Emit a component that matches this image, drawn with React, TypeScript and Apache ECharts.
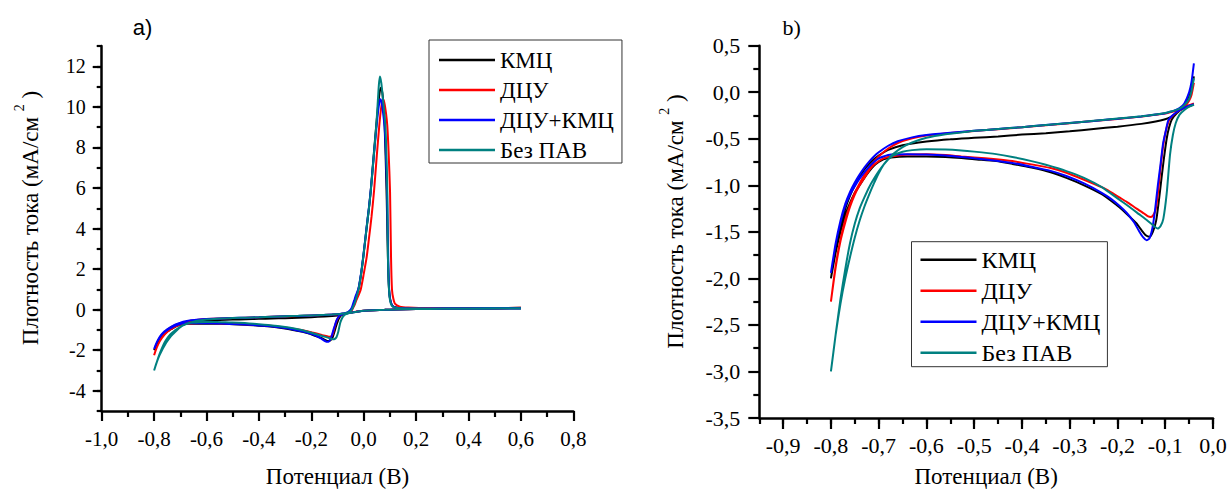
import React, { useEffect, useRef } from 'react';
import * as echarts from 'echarts';

// ---------- categories / legend ----------
const seriesNames = ['КМЦ', 'ДЦУ', 'ДЦУ+КМЦ', 'Без ПАВ'];
const seriesColors = ['#000000', '#ff0000', '#0000ff', '#008080'];

// ---------- tick label values ----------
const leftXLabels = [-1.0, -0.8, -0.6, -0.4, -0.2, 0.0, 0.2, 0.4, 0.6, 0.8];
const leftYMajor = [-4, -2, 0, 2, 4, 6, 8, 10, 12];
const rightXMajor = [-0.9, -0.8, -0.7, -0.6, -0.5, -0.4, -0.3, -0.2, -0.1, 0.0];
const rightYLabels = [-3.5, -3.0, -2.5, -2.0, -1.5, -1.0, -0.5, 0.0, 0.5];

// ---------- КМЦ (black) ----------
const kmcReturn = [[0.6, 0.07], [0.45, 0.05], [0.3, 0.04], [0.2, 0.03], [0.12, 0.01], [0.08, -0.01], [0.04, -0.03], [0.0, -0.06], [-0.02, -0.09], [-0.03, -0.11]];
const kmcLower = [[-0.04, -0.13], [-0.05, -0.15], [-0.064, -0.18], [-0.075, -0.22], [-0.086, -0.29], [-0.092, -0.38], [-0.097, -0.5], [-0.103, -0.72], [-0.108, -0.93], [-0.113, -1.15], [-0.119, -1.38], [-0.126, -1.5], [-0.133, -1.553], [-0.14, -1.54], [-0.15, -1.48], [-0.16, -1.41], [-0.18, -1.31], [-0.196, -1.236], [-0.215, -1.16], [-0.233, -1.095], [-0.27, -1.0], [-0.307, -0.92], [-0.34, -0.86], [-0.38, -0.81], [-0.42, -0.77], [-0.454, -0.74], [-0.5, -0.72], [-0.527, -0.706], [-0.56, -0.695], [-0.6, -0.69], [-0.64, -0.69], [-0.674, -0.7], [-0.69, -0.72], [-0.7, -0.75], [-0.71, -0.79], [-0.72, -0.85], [-0.73, -0.92], [-0.74, -1.0], [-0.75, -1.08], [-0.76, -1.19], [-0.77, -1.32], [-0.78, -1.5], [-0.79, -1.72], [-0.8, -2.0]];
const kmcUpper = [[-0.8, -2.0], [-0.79, -1.68], [-0.78, -1.43], [-0.77, -1.25], [-0.76, -1.11], [-0.75, -1.0], [-0.74, -0.91], [-0.73, -0.83], [-0.72, -0.77], [-0.71, -0.72], [-0.7, -0.68], [-0.68, -0.62], [-0.65, -0.57], [-0.6, -0.53], [-0.55, -0.505], [-0.5, -0.49], [-0.45, -0.475], [-0.4, -0.455], [-0.35, -0.44], [-0.3, -0.42], [-0.25, -0.395], [-0.2, -0.37], [-0.15, -0.34], [-0.12, -0.315], [-0.1, -0.29], [-0.09, -0.27], [-0.08, -0.24], [-0.07, -0.2], [-0.06, -0.14], [-0.05, -0.05], [-0.045, 0.04], [-0.04, 0.17]];
const kmcAnodic = [[-0.035, 0.42], [-0.03, 0.62], [-0.02, 1.0], [-0.01, 1.75], [-0.0015, 2.6], [0.01, 3.9], [0.02, 5.0], [0.027, 5.9], [0.038, 7.6], [0.048, 9.1], [0.056, 10.2], [0.062, 10.8], [0.066, 10.95], [0.071, 10.7], [0.076, 10.0], [0.08, 9.0], [0.084, 7.4], [0.088, 5.4], [0.091, 3.4], [0.094, 1.8], [0.097, 0.95], [0.101, 0.5], [0.108, 0.22], [0.12, 0.12], [0.15, 0.08], [0.25, 0.06], [0.4, 0.07], [0.6, 0.09]];

// ---------- ДЦУ (red) ----------
const dcuReturn = [[0.6, 0.07], [0.45, 0.05], [0.3, 0.04], [0.2, 0.03], [0.12, 0.01], [0.08, -0.01], [0.04, -0.03], [0.0, -0.06], [-0.02, -0.08], [-0.03, -0.1]];
const dcuLower = [[-0.04, -0.12], [-0.05, -0.14], [-0.064, -0.175], [-0.075, -0.21], [-0.084, -0.25], [-0.091, -0.29], [-0.097, -0.38], [-0.102, -0.5], [-0.107, -0.68], [-0.112, -0.92], [-0.116, -1.12], [-0.12, -1.26], [-0.125, -1.32], [-0.13, -1.34], [-0.137, -1.33], [-0.148, -1.29], [-0.16, -1.25], [-0.18, -1.18], [-0.196, -1.13], [-0.215, -1.07], [-0.233, -1.02], [-0.27, -0.94], [-0.307, -0.865], [-0.34, -0.815], [-0.38, -0.775], [-0.42, -0.74], [-0.454, -0.72], [-0.5, -0.7], [-0.527, -0.69], [-0.56, -0.675], [-0.6, -0.665], [-0.64, -0.67], [-0.674, -0.69], [-0.69, -0.71], [-0.7, -0.74], [-0.71, -0.78], [-0.72, -0.84], [-0.73, -0.92], [-0.74, -1.0], [-0.75, -1.1], [-0.76, -1.23], [-0.77, -1.4], [-0.78, -1.6], [-0.79, -1.88], [-0.8, -2.25]];
const dcuUpper = [[-0.8, -2.25], [-0.79, -1.86], [-0.78, -1.58], [-0.77, -1.37], [-0.76, -1.21], [-0.75, -1.08], [-0.74, -0.98], [-0.73, -0.89], [-0.72, -0.81], [-0.71, -0.745], [-0.7, -0.69], [-0.68, -0.605], [-0.66, -0.545], [-0.63, -0.495], [-0.6, -0.465], [-0.55, -0.437], [-0.5, -0.417], [-0.45, -0.397], [-0.4, -0.377], [-0.35, -0.354], [-0.3, -0.332], [-0.25, -0.31], [-0.2, -0.287], [-0.15, -0.262], [-0.12, -0.243], [-0.1, -0.228], [-0.09, -0.216], [-0.08, -0.203], [-0.07, -0.185], [-0.06, -0.155], [-0.05, -0.09], [-0.045, -0.03], [-0.04, 0.1]];
const dcuAnodic = [[-0.035, 0.22], [-0.03, 0.4], [-0.02, 0.7], [-0.0115, 0.98], [0.0, 1.75], [0.0115, 2.6], [0.02, 3.5], [0.03, 4.6], [0.0394, 5.84], [0.05, 7.6], [0.059, 9.0], [0.066, 9.9], [0.073, 10.4], [0.079, 10.2], [0.085, 9.7], [0.09, 9.08], [0.095, 7.8], [0.1005, 5.84], [0.1043, 2.6], [0.108, 0.98], [0.113, 0.55], [0.119, 0.3], [0.138, 0.15], [0.17, 0.1], [0.25, 0.07], [0.4, 0.07], [0.6, 0.09]];

// ---------- ДЦУ+КМЦ (blue) ----------
const dkReturn = [[0.6, 0.06], [0.45, 0.05], [0.3, 0.04], [0.2, 0.03], [0.12, 0.01], [0.08, -0.01], [0.04, -0.03], [0.0, -0.06], [-0.02, -0.09], [-0.03, -0.11]];
const dkLower = [[-0.04, -0.13], [-0.05, -0.145], [-0.064, -0.175], [-0.075, -0.21], [-0.085, -0.25], [-0.0935, -0.3], [-0.099, -0.42], [-0.1045, -0.55], [-0.11, -0.78], [-0.1155, -1.0], [-0.121, -1.25], [-0.1265, -1.45], [-0.133, -1.57], [-0.139, -1.59], [-0.146, -1.56], [-0.155, -1.49], [-0.165, -1.4], [-0.18, -1.3], [-0.196, -1.22], [-0.215, -1.14], [-0.233, -1.08], [-0.27, -0.98], [-0.307, -0.9], [-0.34, -0.845], [-0.38, -0.8], [-0.42, -0.76], [-0.454, -0.735], [-0.5, -0.71], [-0.527, -0.695], [-0.56, -0.68], [-0.6, -0.67], [-0.64, -0.665], [-0.674, -0.67], [-0.69, -0.69], [-0.7, -0.71], [-0.71, -0.75], [-0.72, -0.8], [-0.73, -0.86], [-0.74, -0.93], [-0.75, -1.01], [-0.76, -1.1], [-0.77, -1.22], [-0.78, -1.4], [-0.79, -1.63], [-0.8, -1.94]];
const dkUpper = [[-0.8, -1.94], [-0.79, -1.62], [-0.78, -1.38], [-0.77, -1.2], [-0.76, -1.07], [-0.75, -0.97], [-0.74, -0.885], [-0.73, -0.81], [-0.72, -0.745], [-0.71, -0.69], [-0.7, -0.645], [-0.68, -0.575], [-0.66, -0.527], [-0.63, -0.485], [-0.6, -0.46], [-0.55, -0.435], [-0.5, -0.415], [-0.45, -0.395], [-0.4, -0.375], [-0.35, -0.352], [-0.3, -0.33], [-0.25, -0.308], [-0.2, -0.285], [-0.15, -0.26], [-0.12, -0.24], [-0.1, -0.225], [-0.09, -0.21], [-0.08, -0.195], [-0.07, -0.17], [-0.06, -0.12], [-0.05, 0.0], [-0.045, 0.11], [-0.04, 0.31]];
const dkAnodic = [[-0.035, 0.5], [-0.03, 0.7], [-0.02, 1.05], [-0.01, 1.8], [-0.0015, 2.65], [0.01, 3.95], [0.02, 5.05], [0.027, 5.9], [0.038, 7.5], [0.048, 8.9], [0.055, 9.8], [0.061, 10.3], [0.065, 10.38], [0.07, 10.1], [0.075, 9.6], [0.08, 9.0], [0.085, 7.6], [0.089, 5.8], [0.092, 3.6], [0.0945, 2.0], [0.097, 1.0], [0.101, 0.5], [0.108, 0.22], [0.12, 0.11], [0.15, 0.07], [0.25, 0.06], [0.4, 0.07], [0.6, 0.08]];

// ---------- Без ПАВ (teal) ----------
const bpReturn = [[0.6, 0.06], [0.45, 0.05], [0.3, 0.04], [0.2, 0.03], [0.12, 0.01], [0.08, -0.01], [0.04, -0.03], [0.0, -0.06], [-0.02, -0.09], [-0.03, -0.115]];
const bpLower = [[-0.04, -0.135], [-0.05, -0.155], [-0.06, -0.19], [-0.07, -0.24], [-0.078, -0.33], [-0.084, -0.46], [-0.09, -0.67], [-0.097, -1.09], [-0.104, -1.36], [-0.11, -1.44], [-0.116, -1.465], [-0.122, -1.445], [-0.137, -1.38], [-0.155, -1.31], [-0.174, -1.236], [-0.2, -1.14], [-0.233, -1.02], [-0.27, -0.92], [-0.307, -0.847], [-0.35, -0.78], [-0.38, -0.74], [-0.42, -0.695], [-0.454, -0.665], [-0.5, -0.638], [-0.527, -0.625], [-0.56, -0.615], [-0.6, -0.612], [-0.63, -0.622], [-0.65, -0.64], [-0.67, -0.68], [-0.68, -0.72], [-0.69, -0.78], [-0.7, -0.87], [-0.71, -0.98], [-0.72, -1.1], [-0.73, -1.23], [-0.74, -1.38], [-0.75, -1.56], [-0.76, -1.77], [-0.77, -2.0], [-0.78, -2.27], [-0.79, -2.6], [-0.8, -3.0]];
const bpUpper = [[-0.8, -3.0], [-0.79, -2.6], [-0.78, -2.22], [-0.77, -1.9], [-0.76, -1.62], [-0.75, -1.41], [-0.74, -1.25], [-0.73, -1.13], [-0.72, -1.02], [-0.71, -0.93], [-0.7, -0.85], [-0.69, -0.78], [-0.68, -0.72], [-0.67, -0.665], [-0.65, -0.59], [-0.63, -0.54], [-0.6, -0.49], [-0.56, -0.452], [-0.52, -0.428], [-0.5, -0.415], [-0.45, -0.395], [-0.4, -0.375], [-0.35, -0.352], [-0.3, -0.33], [-0.25, -0.307], [-0.2, -0.283], [-0.15, -0.258], [-0.12, -0.238], [-0.1, -0.222], [-0.09, -0.21], [-0.08, -0.195], [-0.07, -0.175], [-0.06, -0.14], [-0.05, -0.07], [-0.045, 0.01], [-0.04, 0.15]];
const bpAnodic = [[-0.035, 0.3], [-0.03, 0.5], [-0.02, 0.98], [-0.01, 1.75], [-0.0015, 2.6], [0.01, 3.9], [0.02, 5.0], [0.027, 5.84], [0.038, 7.5], [0.048, 9.08], [0.054, 10.3], [0.058, 11.1], [0.062, 11.5], [0.067, 11.2], [0.072, 10.6], [0.077, 9.9], [0.0827, 9.08], [0.087, 7.5], [0.09, 5.84], [0.0912, 4.2], [0.0925, 2.6], [0.0945, 1.6], [0.0966, 0.98], [0.1, 0.5], [0.107, 0.2], [0.12, 0.1], [0.15, 0.07], [0.25, 0.05], [0.4, 0.06], [0.6, 0.07]];

const branches = [
  { ret: kmcReturn, lower: kmcLower, upper: kmcUpper, anodic: kmcAnodic },
  { ret: dcuReturn, lower: dcuLower, upper: dcuUpper, anodic: dcuAnodic },
  { ret: dkReturn, lower: dkLower, upper: dkUpper, anodic: dkAnodic },
  { ret: bpReturn, lower: bpLower, upper: bpUpper, anodic: bpAnodic },
];

const FONT = 'Times New Roman, Liberation Serif, Tinos, DejaVu Serif, Noto Serif, serif';
const SANS = 'Arial, Liberation Sans, sans-serif';

const fmt1 = (v: number) => {
  const r = Math.round(v * 10) / 10;
  return (Math.abs(r) < 1e-9 ? 0 : r).toFixed(1).replace('.', ',');
};

export default function App() {
  const ref = useRef<HTMLDivElement>(null);

  useEffect(() => {
    if (!ref.current) return;
    const chart = echarts.init(ref.current, null, { renderer: 'svg' });

    const axisLine = { show: true, onZero: false, lineStyle: { color: '#000', width: 2.5 } };
    const tickStyle = { color: '#000', width: 2.2 };

    const seriesA = branches.map((b, i) => ({
      type: 'line',
      name: seriesNames[i],
      xAxisIndex: 0,
      yAxisIndex: 0,
      data: [...b.ret, ...b.lower, ...b.upper.slice(1), ...b.anodic],
      symbol: 'none',
      smooth: 0.2,
      lineStyle: { color: seriesColors[i], width: 2 },
      itemStyle: { color: seriesColors[i] },
      z: 2 + i,
    }));
    const seriesB = branches.map((b, i) => ({
      type: 'line',
      name: seriesNames[i],
      xAxisIndex: 1,
      yAxisIndex: 2,
      data: [...b.lower, ...b.upper.slice(1)],
      symbol: 'none',
      smooth: 0.2,
      lineStyle: { color: seriesColors[i], width: 2 },
      itemStyle: { color: seriesColors[i] },
      z: 2 + i,
    }));

    const legendBase = {
      orient: 'vertical',
      data: seriesNames.map((n) => ({ name: n, icon: 'rect' })),
      icon: 'rect',
      itemWidth: 56,
      itemHeight: 2.5,
      selectedMode: false,
      borderColor: '#333',
      borderWidth: 1,
      backgroundColor: '#fff',
    };

    const ytitle = (x: number, y: number) => ({
      type: 'text',
      x,
      y,
      rotation: Math.PI / 2,
      style: {
        text: '{m|Плотность тока (мА/см }{s|2}{m| )}',
        align: 'center',
        verticalAlign: 'middle',
        textAlign: 'center',
        textVerticalAlign: 'middle',
        fill: '#000',
        fontFamily: FONT,
        rich: {
          m: { fontSize: 23, fontFamily: FONT, lineHeight: 36, verticalAlign: 'middle', fill: '#000' },
          s: { fontSize: 14, fontFamily: FONT, lineHeight: 14, verticalAlign: 'top', fill: '#000' },
        },
      },
    });

    chart.setOption({
      animation: false,
      backgroundColor: '#fff',
      textStyle: { fontFamily: FONT, color: '#000' },
      grid: [
        { left: 101.7, top: 46.1, width: 471.6, height: 370.1 },
        { left: 759.3, top: 45.7, width: 453.7, height: 378.3 },
      ],
      legend: [
        {
          ...legendBase,
          left: 429,
          top: 40,
          itemGap: 6,
          padding: [8, 8, 1, 10],
          textStyle: { fontSize: 23, fontFamily: FONT, color: '#000', lineHeight: 24 },
        },
        {
          ...legendBase,
          left: 911.5,
          top: 241.7,
          itemGap: 7,
          padding: [6, 7, 2, 9],
          textStyle: { fontSize: 24, fontFamily: FONT, color: '#000', lineHeight: 24 },
        },
      ],
      xAxis: [
        {
          gridIndex: 0,
          type: 'value',
          min: -1.0,
          max: 0.8,
          interval: 0.2,
          axisLine,
          axisTick: { show: true, length: 10, lineStyle: tickStyle },
          minorTick: { show: true, splitNumber: 2, length: 6, lineStyle: tickStyle },
          splitLine: { show: false },
          minorSplitLine: { show: false },
          axisLabel: {
            fontSize: 21, color: '#000', fontFamily: FONT, margin: 17,
            customValues: leftXLabels,
            formatter: (v: number) => fmt1(v),
          },
          name: 'Потенциал (В)',
          nameLocation: 'middle',
          nameGap: 54,
          nameTextStyle: { fontSize: 23, color: '#000', fontFamily: FONT },
        },
        {
          gridIndex: 1,
          type: 'value',
          min: -0.95,
          max: 0,
          interval: 0.05,
          axisLine,
          axisTick: { show: true, length: 6, lineStyle: tickStyle },
          splitLine: { show: false },
          axisLabel: {
            fontSize: 22, color: '#000', fontFamily: FONT, margin: 16,
            formatter: (v: number) => (Math.round(v * 100) % 10 === 0 ? fmt1(v) : ''),
          },
          name: 'Потенциал (В)',
          nameLocation: 'middle',
          nameGap: 47,
          nameTextStyle: { fontSize: 23, color: '#000', fontFamily: FONT },
        },
        {
          gridIndex: 1,
          type: 'value',
          position: 'bottom',
          min: -0.95,
          max: 0,
          axisLine: { show: false, onZero: false },
          axisTick: { show: true, length: 11, lineStyle: tickStyle, customValues: rightXMajor },
          axisLabel: { show: false },
          splitLine: { show: false },
        },
      ],
      yAxis: [
        {
          gridIndex: 0,
          type: 'value',
          min: -5,
          max: 13,
          interval: 1,
          axisLine,
          axisTick: { show: true, length: 5, lineStyle: tickStyle },
          splitLine: { show: false },
          axisLabel: {
            fontSize: 20, color: '#000', fontFamily: FONT, margin: 16,
            formatter: (v: number) => (Math.round(v) % 2 === 0 ? String(Math.round(v)) : ''),
          },
        },
        {
          gridIndex: 0,
          type: 'value',
          position: 'left',
          min: -5,
          max: 13,
          axisLine: { show: false, onZero: false },
          axisTick: { show: true, length: 9, lineStyle: tickStyle, customValues: leftYMajor },
          axisLabel: { show: false },
          splitLine: { show: false },
        },
        {
          gridIndex: 1,
          type: 'value',
          min: -3.5,
          max: 0.5,
          interval: 0.5,
          axisLine,
          axisTick: { show: true, length: 11, lineStyle: tickStyle },
          minorTick: { show: true, splitNumber: 2, length: 6, lineStyle: tickStyle },
          splitLine: { show: false },
          minorSplitLine: { show: false },
          axisLabel: {
            fontSize: 22, color: '#000', fontFamily: FONT, margin: 19,
            customValues: rightYLabels,
            formatter: (v: number) => fmt1(v),
          },
        },
      ],
      graphic: [
        {
          type: 'text',
          x: 142.5,
          y: 27,
          style: { text: 'a)', fontSize: 22, fontFamily: SANS, fill: '#000', align: 'center', verticalAlign: 'middle', textAlign: 'center', textVerticalAlign: 'middle' },
        },
        {
          type: 'text',
          x: 791.7,
          y: 27,
          style: { text: 'b)', fontSize: 22, fontFamily: FONT, fill: '#000', align: 'center', verticalAlign: 'middle', textAlign: 'center', textVerticalAlign: 'middle' },
        },
        ytitle(30, 218),
        ytitle(675, 221.5),
      ],
      series: [...seriesA, ...seriesB],
    } as any);

    return () => chart.dispose();
  }, []);

  return (
    <div
      ref={ref}
      style={{ position: 'absolute', left: 0, top: 0, width: 1231, height: 493, background: '#fff' }}
    />
  );
}
